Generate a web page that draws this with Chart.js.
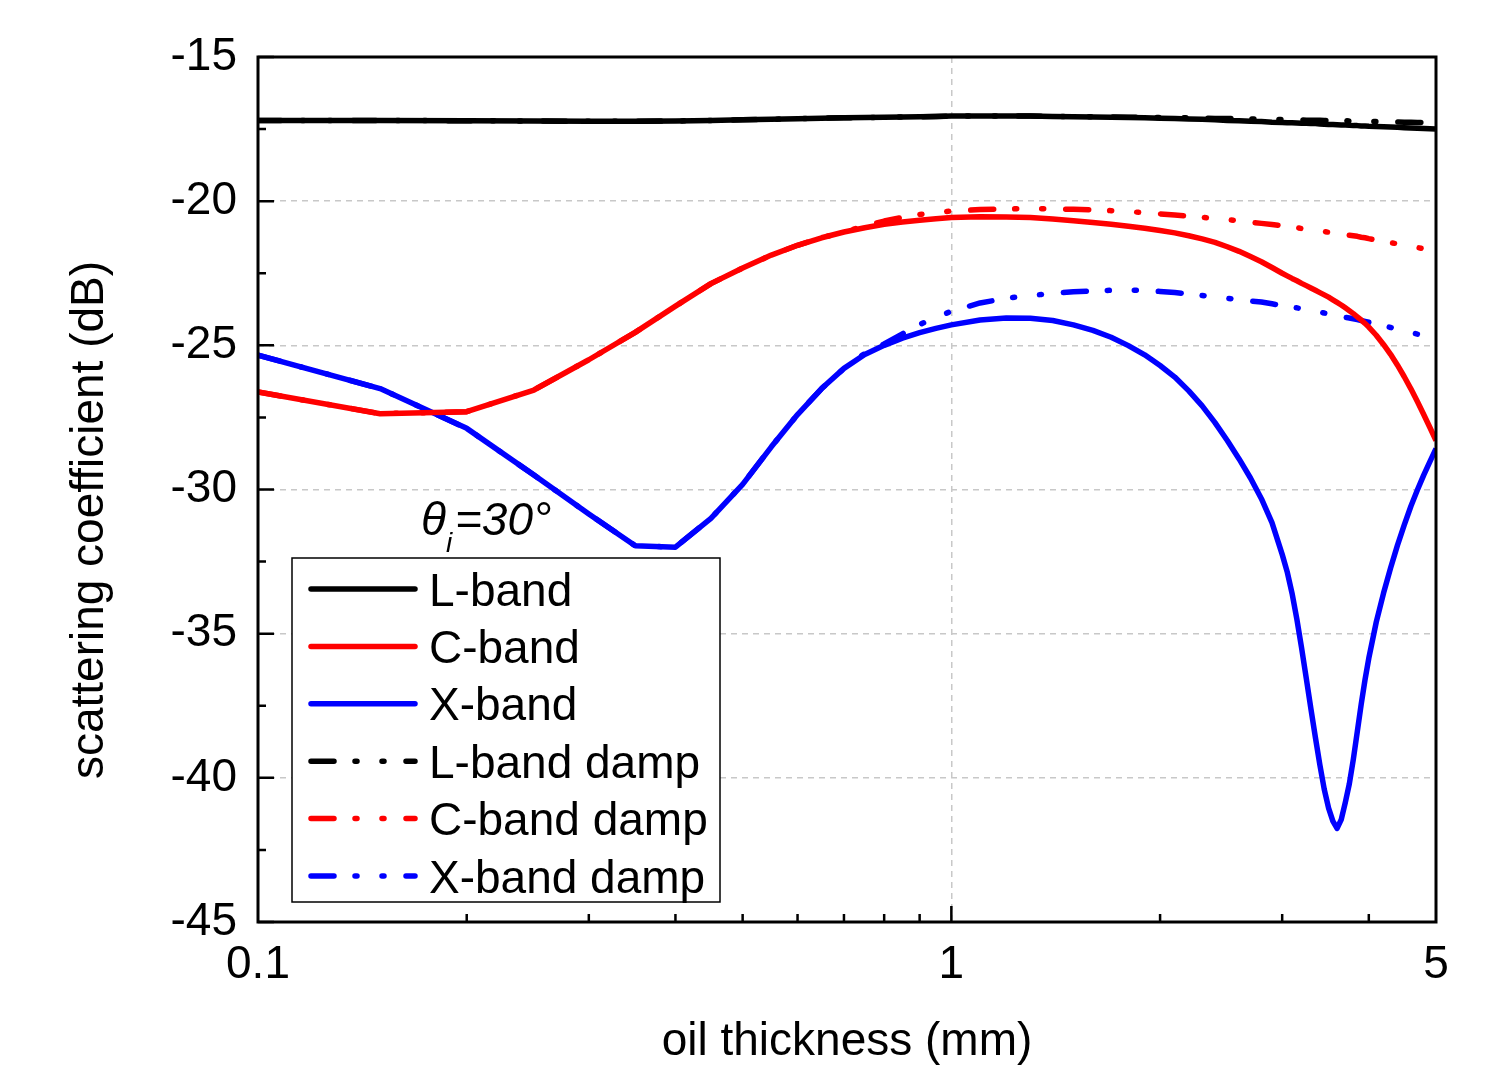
<!DOCTYPE html>
<html>
<head>
<meta charset="utf-8">
<script src="https://cdn.jsdelivr.net/npm/chart.js@4.4.1/dist/chart.umd.min.js"></script>
<style>
  html, body { margin: 0; padding: 0; background: #fff; }
  #wrap { width: 1496px; height: 1072px; }
</style>
</head>
<body>
<div id="wrap"><canvas id="scatterChart" width="1496" height="1072"></canvas></div>
<script>
// oil thickness (mm)
const thickness = [
  0.1, 0.15, 0.2, 0.25, 0.3, 0.35, 0.4, 0.45, 0.5, 0.55,
  0.6, 0.65, 0.7, 0.75, 0.8, 0.85, 0.9, 0.95, 1.0, 1.1,
  1.2, 1.3, 1.4, 1.5, 1.6, 1.7, 1.8, 1.9, 2.0, 2.1,
  2.2, 2.3, 2.4, 2.5, 2.6, 2.7, 2.8, 2.9, 3.0, 3.05,
  3.1, 3.15, 3.2, 3.25, 3.3, 3.35, 3.4, 3.45, 3.5, 3.55,
  3.6, 3.65, 3.7, 3.75, 3.8, 3.85, 3.9, 3.95, 4.0, 4.1,
  4.2, 4.3, 4.4, 4.5, 4.6, 4.7, 4.8, 4.9, 5.0];

// scattering coefficient (dB)
const lBand = [
  -17.2, -17.2, -17.21, -17.22, -17.23, -17.23, -17.22, -17.2, -17.18, -17.16,
  -17.14, -17.12, -17.11, -17.1, -17.09, -17.08, -17.07, -17.06, -17.05, -17.05,
  -17.05, -17.05, -17.06, -17.07, -17.08, -17.09, -17.1, -17.11, -17.12, -17.13,
  -17.15, -17.16, -17.18, -17.2, -17.21, -17.23, -17.24, -17.26, -17.27, -17.28,
  -17.28, -17.29, -17.3, -17.3, -17.31, -17.31, -17.32, -17.33, -17.34, -17.34,
  -17.35, -17.36, -17.36, -17.37, -17.38, -17.38, -17.39, -17.39, -17.4, -17.41,
  -17.42, -17.43, -17.44, -17.45, -17.46, -17.47, -17.48, -17.49, -17.5];
const cBand = [
  -26.62, -27.37, -27.3, -26.55, -25.5, -24.55, -23.64, -22.86, -22.32, -21.87,
  -21.53, -21.27, -21.07, -20.92, -20.8, -20.72, -20.66, -20.61, -20.57, -20.54,
  -20.55, -20.57, -20.62, -20.68, -20.74, -20.8, -20.87, -20.94, -21.02, -21.1,
  -21.2, -21.31, -21.43, -21.58, -21.74, -21.92, -22.1, -22.3, -22.5, -22.59,
  -22.68, -22.76, -22.85, -22.93, -23.01, -23.09, -23.17, -23.25, -23.33, -23.42,
  -23.51, -23.6, -23.7, -23.8, -23.9, -24.01, -24.12, -24.24, -24.37, -24.65,
  -24.97, -25.31, -25.69, -26.09, -26.51, -26.95, -27.4, -27.85, -28.3];
const xBand = [
  -25.34, -26.5, -27.88, -29.5, -30.85, -31.95, -32.0, -31.0, -29.82, -28.52,
  -27.4, -26.5, -25.8, -25.32, -25.0, -24.75, -24.56, -24.41, -24.29, -24.12,
  -24.05, -24.06, -24.14, -24.29, -24.48, -24.72, -25.01, -25.33, -25.7, -26.1,
  -26.58, -27.1, -27.68, -28.3, -28.94, -29.6, -30.32, -31.15, -32.25, -32.85,
  -33.6, -34.5, -35.5, -36.55, -37.6, -38.6, -39.55, -40.4, -41.05, -41.5,
  -41.75, -41.45, -40.85, -40.2, -39.35, -38.4, -37.45, -36.6, -35.85, -34.6,
  -33.6, -32.72, -31.93, -31.23, -30.58, -30.02, -29.5, -29.03, -28.58];
const lBandDamp = [
  -17.2, -17.2, -17.21, -17.22, -17.23, -17.23, -17.22, -17.2, -17.18, -17.16,
  -17.14, -17.12, -17.11, -17.1, -17.09, -17.08, -17.07, -17.06, -17.05, -17.05,
  -17.05, -17.05, -17.06, -17.07, -17.07, -17.08, -17.09, -17.09, -17.1, -17.1,
  -17.11, -17.12, -17.13, -17.13, -17.14, -17.15, -17.16, -17.16, -17.17, -17.17,
  -17.18, -17.18, -17.18, -17.19, -17.19, -17.19, -17.19, -17.2, -17.2, -17.2,
  -17.21, -17.21, -17.21, -17.22, -17.22, -17.22, -17.23, -17.23, -17.23, -17.24,
  -17.24, -17.25, -17.25, -17.26, -17.26, -17.27, -17.27, -17.28, -17.28];
const cBandDamp = [
  -26.62, -27.37, -27.3, -26.55, -25.5, -24.55, -23.64, -22.86, -22.32, -21.87,
  -21.53, -21.27, -21.07, -20.86, -20.69, -20.56, -20.46, -20.39, -20.34, -20.29,
  -20.27, -20.26, -20.27, -20.28, -20.3, -20.33, -20.36, -20.4, -20.44, -20.48,
  -20.52, -20.56, -20.6, -20.64, -20.68, -20.73, -20.77, -20.81, -20.85, -20.87,
  -20.9, -20.92, -20.95, -20.97, -20.99, -21.01, -21.03, -21.05, -21.08, -21.1,
  -21.12, -21.14, -21.16, -21.18, -21.2, -21.22, -21.25, -21.27, -21.3, -21.35,
  -21.39, -21.44, -21.48, -21.53, -21.57, -21.61, -21.65, -21.69, -21.73];
const xBandDamp = [
  -25.34, -26.5, -27.88, -29.5, -30.85, -31.95, -32.0, -31.0, -29.82, -28.52,
  -27.4, -26.5, -25.8, -25.28, -24.95, -24.6, -24.28, -24.03, -23.82, -23.53,
  -23.37, -23.27, -23.2, -23.14, -23.11, -23.09, -23.08, -23.1, -23.13, -23.17,
  -23.22, -23.27, -23.32, -23.37, -23.42, -23.46, -23.5, -23.56, -23.62, -23.65,
  -23.68, -23.7, -23.73, -23.76, -23.79, -23.82, -23.85, -23.88, -23.91, -23.94,
  -23.97, -24.0, -24.03, -24.05, -24.08, -24.11, -24.14, -24.17, -24.2, -24.26,
  -24.32, -24.38, -24.44, -24.5, -24.55, -24.61, -24.66, -24.71, -24.77];

const seriesLabels = ['L-band', 'C-band', 'X-band', 'L-band damp', 'C-band damp', 'X-band damp'];

// axis ticks
const xTickValues = [0.1, 1, 5];
const xTickLabels = ['0.1', '1', '5'];
const xMinorTicks = [0.2, 0.3, 0.4, 0.5, 0.6, 0.7, 0.8, 0.9, 2, 3, 4];
const yTickValues = [-45, -40, -35, -30, -25, -20, -15];
const yTickLabels = ['-45', '-40', '-35', '-30', '-25', '-20', '-15'];
const yMinorTicks = [-42.5, -37.5, -32.5, -27.5, -22.5, -17.5];

const FONT = '"Liberation Sans", Arial, sans-serif';
const DAMP_DASH = [23, 21, 2, 25, 2, 22];

const styles = [
  { color: '#000000', dash: [] },
  { color: '#ff0000', dash: [] },
  { color: '#0000ff', dash: [] },
  { color: '#000000', dash: DAMP_DASH },
  { color: '#ff0000', dash: DAMP_DASH },
  { color: '#0000ff', dash: DAMP_DASH }
];
const values = [lBand, cBand, xBand, lBandDamp, cBandDamp, xBandDamp];

const datasets = values.map((vals, i) => ({
  label: seriesLabels[i],
  data: thickness.map((t, k) => ({ x: t, y: vals[k] })),
  borderColor: styles[i].color,
  borderWidth: 5.5,
  borderDash: styles[i].dash,
  borderCapStyle: styles[i].dash.length ? 'round' : 'butt',
  borderJoinStyle: 'round',
  pointRadius: 0,
  tension: 0,
  order: i < 3 ? 0 : 1
}));

const decor = {
  id: 'decor',
  afterDraw(chart) {
    const { ctx, chartArea: a, scales: { x, y } } = chart;
    ctx.save();

    // tick marks, pointing inward
    ctx.strokeStyle = '#000';
    ctx.lineWidth = 2.5;
    ctx.beginPath();
    xMinorTicks.forEach((v) => {
      const px = x.getPixelForValue(v);
      ctx.moveTo(px, a.bottom); ctx.lineTo(px, a.bottom - 8);
    });
    const p1 = x.getPixelForValue(1);
    ctx.moveTo(p1, a.bottom); ctx.lineTo(p1, a.bottom - 16);
    yMinorTicks.forEach((v) => {
      const py = y.getPixelForValue(v);
      ctx.moveTo(a.left, py); ctx.lineTo(a.left + 8, py);
    });
    yTickValues.forEach((v) => {
      const py = y.getPixelForValue(v);
      ctx.moveTo(a.left, py); ctx.lineTo(a.left + 16, py);
    });
    ctx.stroke();

    // frame
    ctx.lineWidth = 3;
    ctx.strokeRect(a.left, a.top, a.right - a.left, a.bottom - a.top);

    // axis titles
    ctx.fillStyle = '#000';
    ctx.font = '46px ' + FONT;
    ctx.textAlign = 'center';
    ctx.textBaseline = 'middle';
    ctx.fillText('oil thickness (mm)', (a.left + a.right) / 2, 1042);
    ctx.save();
    ctx.translate(90, 520);
    ctx.rotate(-Math.PI / 2);
    ctx.fillText('scattering coefficient (dB)', 0, 0);
    ctx.restore();

    // incidence angle note
    ctx.textAlign = 'left';
    ctx.textBaseline = 'alphabetic';
    ctx.font = 'italic 46px ' + FONT;
    ctx.fillText('\u03b8', 421, 535);
    ctx.font = 'italic 28px ' + FONT;
    ctx.fillText('i', 446, 552);
    ctx.font = 'italic 46px ' + FONT;
    ctx.fillText('=30\u00b0', 455, 535);

    // legend
    const box = { left: 292, top: 558, right: 720, bottom: 902 };
    ctx.fillStyle = '#fff';
    ctx.fillRect(box.left, box.top, box.right - box.left, box.bottom - box.top);
    ctx.lineWidth = 1.5;
    ctx.strokeStyle = '#000';
    ctx.strokeRect(box.left, box.top, box.right - box.left, box.bottom - box.top);
    ctx.font = '46px ' + FONT;
    seriesLabels.forEach((label, i) => {
      const cy = 589 + i * 57.4;
      ctx.beginPath();
      ctx.setLineDash(styles[i].dash);
      ctx.lineCap = 'round';
      ctx.lineWidth = 5.5;
      ctx.strokeStyle = styles[i].color;
      ctx.moveTo(311, cy);
      ctx.lineTo(415, cy);
      ctx.stroke();
      ctx.setLineDash([]);
      ctx.fillStyle = '#000';
      ctx.fillText(label, 429, cy + 16.5);
    });

    ctx.restore();
  }
};

new Chart(document.getElementById('scatterChart'), {
  type: 'line',
  data: { datasets },
  options: {
    responsive: false,
    animation: false,
    layout: { padding: { left: 0, top: 57, right: 60, bottom: 0 } },
    plugins: { legend: { display: false }, tooltip: { enabled: false } },
    scales: {
      x: {
        type: 'logarithmic',
        min: 0.1,
        max: 5,
        afterBuildTicks: (scale) => { scale.ticks = xTickValues.map((v) => ({ value: v })); },
        afterFit: (scale) => { scale.height = 150; },
        ticks: {
          autoSkip: false,
          maxRotation: 0,
          padding: 16,
          color: '#000',
          font: { family: FONT, size: 46 },
          callback: (v) => xTickLabels[xTickValues.indexOf(v)] ?? ''
        },
        grid: {
          drawTicks: false,
          lineWidth: 1.5,
          color: (c) => (c.tick && c.tick.value === 1 ? '#c8c8c8' : 'rgba(0,0,0,0)')
        },
        border: { display: false, dash: [6, 5] }
      },
      y: {
        min: -45,
        max: -15,
        afterBuildTicks: (scale) => { scale.ticks = yTickValues.map((v) => ({ value: v })); },
        afterFit: (scale) => { scale.width = 258; },
        ticks: {
          padding: 21,
          color: '#000',
          font: { family: FONT, size: 46 },
          callback: (v) => yTickLabels[yTickValues.indexOf(v)] ?? ''
        },
        grid: {
          drawTicks: false,
          lineWidth: 1.5,
          color: (c) => (c.tick && (c.tick.value === -45 || c.tick.value === -15) ? 'rgba(0,0,0,0)' : '#c8c8c8')
        },
        border: { display: false, dash: [6, 5] }
      }
    }
  },
  plugins: [decor]
});
</script>
</body>
</html>
